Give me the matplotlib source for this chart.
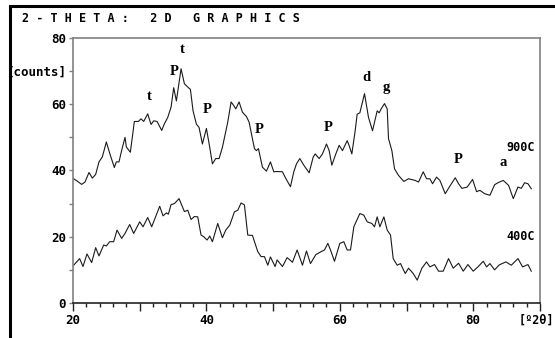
import matplotlib
matplotlib.use('Agg')
import matplotlib.pyplot as plt
from matplotlib.lines import Line2D

# 900C pattern (2theta, counts)
x_900 = [20.0, 20.5, 21.3, 21.8, 22.4, 22.9, 23.4, 23.9, 24.4, 25.0, 25.6, 26.2, 26.5, 26.9,
         27.3, 27.8, 28.0, 28.6, 29.2, 29.8, 30.2, 30.6, 31.2, 31.7, 32.1, 32.6, 33.3, 33.7,
         34.2, 34.7, 35.1, 35.5, 36.2, 36.7, 37.3, 37.6, 38.0, 38.5, 38.9, 39.4, 40.0, 40.5,
         40.9, 41.4, 41.9, 42.4, 43.2, 43.7, 44.1, 44.4, 44.9, 45.4, 46.0, 46.4, 47.2, 47.5,
         47.8, 48.4, 49.0, 49.6, 50.1, 50.6, 51.4, 51.9, 52.6, 53.1, 53.5, 54.0, 54.6, 55.4,
         56.0, 56.3, 56.9, 57.4, 58.0, 58.4, 58.8, 59.4, 59.9, 60.4, 61.1, 61.4, 61.8, 62.3,
         62.6, 63.0, 63.7, 64.3, 64.9, 65.6, 65.9, 66.2, 66.7, 67.1, 67.3, 67.8, 68.2, 68.8,
         69.6, 70.3, 71.3, 71.8, 72.5, 73.0, 73.5, 73.9, 74.5, 75.0, 75.8, 76.5, 77.3, 77.8,
         78.3, 79.1, 79.9, 80.5, 81.0, 81.7, 82.5, 83.2, 83.7, 84.5, 85.3, 86.0, 86.7, 87.2,
         87.7, 88.2, 88.7]
y_900 = [37.6, 37.0, 35.8, 36.5, 39.4, 37.7, 38.8, 42.6, 44.1, 48.6, 44.6, 40.9, 42.6, 42.6,
         46.1, 50.0, 47.1, 45.5, 54.8, 54.8, 55.6, 54.8, 57.1, 53.9, 55.0, 54.8, 52.1, 54.1,
         56.0, 59.1, 65.0, 61.0, 70.7, 66.2, 65.0, 64.5, 58.0, 54.0, 53.0, 48.0, 52.7, 47.0,
         42.0, 43.6, 43.6, 47.0, 54.6, 60.7, 59.6, 58.6, 60.7, 57.6, 56.3, 54.6, 46.6, 46.0,
         46.6, 41.0, 39.8, 42.6, 39.6, 39.7, 39.6, 37.6, 35.1, 39.6, 42.0, 43.6, 41.6, 39.3,
         44.0, 45.0, 43.6, 45.0, 48.0, 46.0, 41.6, 45.0, 47.6, 46.0, 49.0, 47.5, 45.0, 52.0,
         57.0, 57.4, 63.2, 56.0, 52.0, 58.0, 57.4, 58.6, 60.2, 58.6, 49.6, 46.0, 40.5, 38.5,
         36.7, 37.5, 37.0, 36.5, 39.6, 37.5, 37.5, 36.0, 38.0, 37.0, 33.0, 35.3, 37.8, 36.0,
         34.6, 35.0, 37.3, 33.6, 34.0, 33.0, 32.5, 35.7, 36.3, 37.0, 35.5, 31.5, 35.0, 34.6,
         36.3, 36.0, 34.5]

# 400C pattern
x_400 = [20.1, 21.0, 21.5, 22.1, 22.8, 23.4, 23.9, 24.6, 25.0, 25.5, 26.1, 26.6, 27.3, 27.8,
         28.5, 29.1, 30.0, 30.5, 31.2, 31.8, 33.0, 33.5, 34.0, 34.3, 34.7, 35.2, 35.9, 36.7,
         37.2, 37.7, 38.2, 38.7, 39.2, 39.6, 40.1, 40.5, 40.9, 41.7, 42.4, 42.9, 43.5, 44.2,
         44.7, 45.2, 45.7, 46.2, 46.9, 47.7, 48.2, 48.7, 49.2, 49.6, 50.3, 50.6, 51.4, 52.1,
         52.9, 53.6, 54.4, 55.0, 55.6, 56.4, 57.2, 57.7, 58.2, 58.6, 59.2, 60.0, 60.6, 61.1,
         61.6, 62.1, 63.0, 63.6, 64.1, 64.8, 65.2, 65.6, 66.0, 66.6, 67.1, 67.6, 68.0, 68.6,
         69.1, 69.8, 70.3, 71.0, 71.6, 72.3, 73.0, 73.5, 74.2, 74.8, 75.5, 76.3, 77.0, 77.8,
         78.5, 79.2, 80.0, 80.7, 81.5, 82.0, 82.5, 83.2, 83.9, 84.9, 85.7, 86.7, 87.4, 88.2,
         88.7]
y_400 = [11.4, 13.4, 11.0, 14.8, 12.2, 16.7, 14.2, 17.5, 17.2, 18.5, 18.5, 22.0, 19.5, 21.0,
         23.7, 21.0, 24.5, 23.0, 25.8, 23.0, 29.2, 26.3, 27.2, 26.8, 29.7, 30.0, 31.5, 27.6,
         28.0, 25.2, 26.1, 26.0, 20.5, 20.0, 19.0, 20.2, 18.5, 24.0, 19.7, 22.0, 23.5, 27.5,
         28.0, 30.2, 29.6, 20.5, 20.4, 15.5, 14.0, 14.0, 11.4, 13.9, 11.0, 13.0, 11.0, 13.7,
         12.3, 16.0, 11.4, 15.7, 11.9, 14.6, 15.5, 16.0, 18.0, 16.0, 12.6, 18.0, 18.5, 16.0,
         16.0, 23.0, 27.0, 26.5, 24.5, 24.0, 23.0, 26.0, 23.0, 26.0, 22.0, 20.5, 13.4, 11.4,
         11.9, 8.9, 10.5, 8.9, 6.9, 10.5, 12.4, 10.9, 11.6, 9.6, 9.6, 13.4, 10.5, 12.0,
         9.6, 11.6, 9.6, 10.9, 12.6, 10.9, 11.9, 10.0, 11.5, 12.4, 11.4, 13.4, 10.9, 11.6,
         9.6]

# peak markers
peak_labels = ['t', 'P', 't', 'P', 'P', 'P', 'd', 'g', 'P', 'a']
peak_x = [31.4, 35.1, 36.3, 40.1, 47.9, 58.2, 64.0, 67.0, 77.8, 84.5]
peak_y = [60.5, 68.0, 74.5, 56.5, 50.5, 51.0, 66.0, 63.0, 41.5, 40.5]

mono = 'DejaVu Sans Mono'
grey = '#808080'

fig = plt.figure(figsize=(5.55, 3.38), dpi=100)
ax = fig.add_axes([0.1315, 0.1036, 0.8414, 0.784])

ax.plot(x_900, y_900, color='#1a1a1a', lw=0.8)
ax.plot(x_400, y_400, color='#1a1a1a', lw=0.8)

for lab, px, py in zip(peak_labels, peak_x, peak_y):
    ax.text(px, py, lab, ha='center', va='bottom', fontsize=10.5,
            family='Liberation Serif', fontweight='bold')

ax.text(89.2, 47, '900C', ha='right', va='center', family=mono,
        fontweight='bold', fontsize=8.5)
ax.text(89.2, 20, '400C', ha='right', va='center', family=mono,
        fontweight='bold', fontsize=8.5)

ax.set_xlim(20, 90)
ax.set_ylim(0, 80)

ax.set_xticks([20, 30, 40, 50, 60, 70, 80, 90])
ax.set_xticklabels(['20', '', '40', '', '60', '', '80', ''])
ax.set_xticks(range(20, 90, 2), minor=True)
ax.set_yticks([0, 20, 40, 60, 70, 80])
ax.set_yticklabels(['0', '20', '40', '60', '[counts]', '80'])
ax.set_yticks([10, 30, 50], minor=True)

ax.tick_params(axis='x', which='major', length=6, width=1, color='#222222', pad=2)
ax.tick_params(axis='x', which='minor', length=3, width=1, color='#222222')
ax.tick_params(axis='y', which='both', length=3, width=1, color=grey, pad=2)
for lab in ax.get_xticklabels() + ax.get_yticklabels():
    lab.set_family(mono)
    lab.set_fontweight('bold')
    lab.set_fontsize(9)

# unit label at the right end of the x axis
fig.text(554 / 555, 1 - 320 / 338, '[º2θ]', family=mono, fontweight='bold',
         fontsize=8.5, ha='right', va='center')

for side in ['left', 'top', 'right']:
    ax.spines[side].set_color(grey)
    ax.spines[side].set_linewidth(1.2)
ax.spines['bottom'].set_color('#222222')
ax.spines['bottom'].set_linewidth(1.2)

fig.text(22 / 555, 1 - 19 / 338, '2 - T H E T A :   2 D   G R A P H I C S',
         family=mono, fontweight='bold', fontsize=8.5, va='center', ha='left')

# outer frame (top and left edges)
fig.add_artist(Line2D([9.5 / 555, 1], [1 - 6 / 338, 1 - 6 / 338], color='black', lw=2.2))
fig.add_artist(Line2D([9.5 / 555, 9.5 / 555], [0, 1 - 6 / 338], color='black', lw=2.2))

fig.savefig('out.png', dpi=100)
